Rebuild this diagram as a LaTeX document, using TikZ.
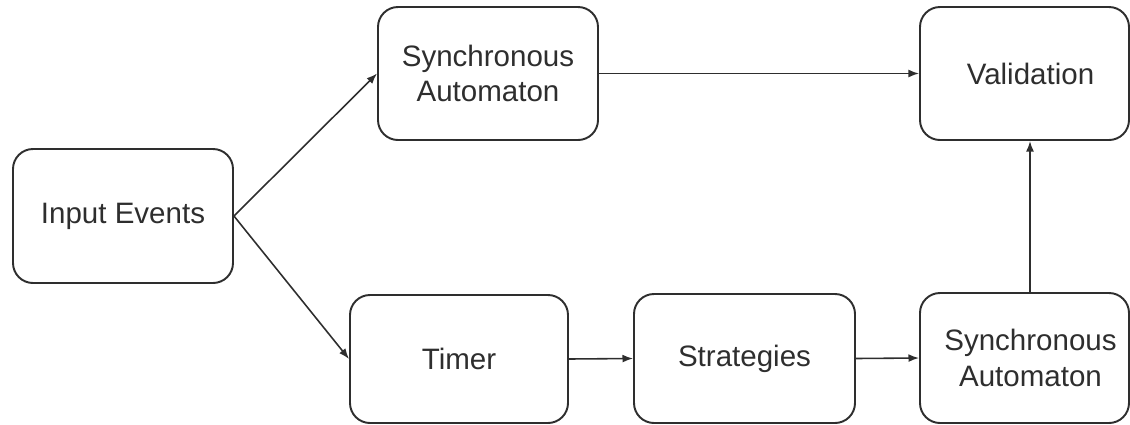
\documentclass[tikz,border=0pt]{standalone}
\usepackage{fontspec}
\setmainfont{Liberation Sans}
\usetikzlibrary{arrows.meta}
\definecolor{ink}{HTML}{2E2E2E}
\begin{document}
\begin{tikzpicture}[x=0.02cm,y=-0.02cm,
  box/.style={draw=ink, line width=1.1pt, rounded corners=0.4cm, inner sep=0pt,
    align=center, text=ink, font=\fontsize{16.8}{20}\selectfont},
  conn/.style={draw=ink, line width=0.9pt, -{Latex[length=6pt,width=4.5pt]}}]
\useasboundingbox (0,0) rectangle (1130,424);
\node[box, minimum width=220*0.02cm, minimum height=134*0.02cm] (in) at (123,216) {Input Events};
\node[box, minimum width=220*0.02cm, minimum height=133*0.02cm] (sa1) at (488,73.5) {Synchronous\\Automaton};
\node[box, minimum width=209*0.02cm, minimum height=133*0.02cm] (val) at (1024.5,73.5) {\hspace*{0.24cm}Validation};
\node[box, minimum width=218*0.02cm, minimum height=128*0.02cm] (tim) at (459,359) {Timer};
\node[box, minimum width=221*0.02cm, minimum height=129*0.02cm] (str) at (744.5,358.5) {Strategies};
\node[box, minimum width=209*0.02cm, minimum height=130*0.02cm] (sa2) at (1024.5,358) {\hspace*{0.24cm}Synchronous\\\hspace*{0.24cm}Automaton};
\draw[conn] (in.east) -- (sa1.west);
\draw[conn] (in.east) -- (tim.west);
\draw[conn] (sa1.east) -- (val.west);
\draw[conn] (tim.east) -- (str.west);
\draw[conn] (str.east) -- (sa2.west);
\draw[conn] ([xshift=0.11cm]sa2.north) -- ([xshift=0.11cm]val.south);
\end{tikzpicture}
\end{document}
